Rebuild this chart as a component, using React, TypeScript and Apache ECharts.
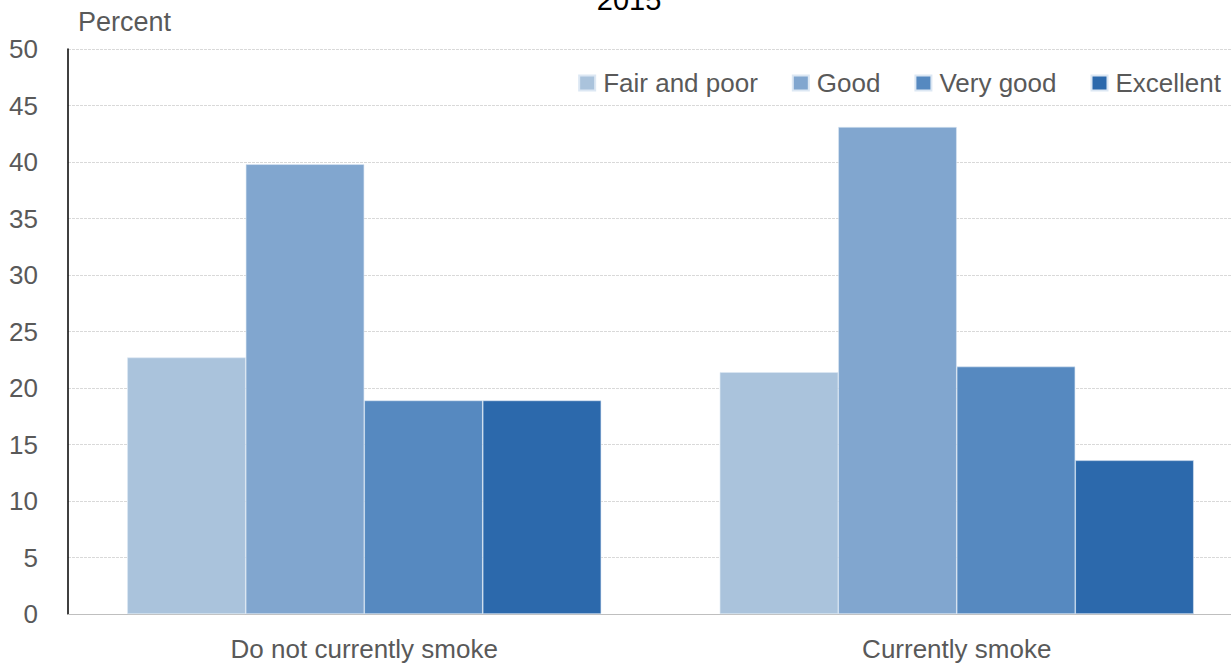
import React, { useEffect, useRef } from "react";
import * as echarts from "echarts";

const categories = ["Do not currently smoke", "Currently smoke"];
const seriesNames = ["Fair and poor", "Good", "Very good", "Excellent"];
const fairAndPoor = [22.7, 21.4];
const good = [39.8, 43.1];
const veryGood = [18.9, 21.9];
const excellent = [18.9, 13.6];
const colors = ["#AAC3DC", "#81A6CF", "#5689C0", "#2C69AC"];
const titleText = "2015";
const yName = "Percent";

const FONT = "'Liberation Sans', Arial, sans-serif";
const GREY = "#595959";

export default function App() {
  const ref = useRef<HTMLDivElement>(null);
  useEffect(() => {
    if (!ref.current) return;
    const chart = echarts.init(ref.current, undefined, { renderer: "svg" });
    const values = [fairAndPoor, good, veryGood, excellent];
    chart.setOption({
      animation: false,
      backgroundColor: "#ffffff",
      graphic: [
        {
          type: "text",
          x: 629,
          y: 14,
          style: {
            text: titleText,
            fontFamily: FONT,
            fontSize: 29,
            fill: "#000",
            align: "center",
            verticalAlign: "bottom",
          },
        },
        {
          type: "text",
          x: 78,
          y: 22,
          style: { text: yName, fontFamily: FONT, fontSize: 27, fill: GREY, verticalAlign: "middle" },
        },
      ],
      legend: {
        data: seriesNames,
        right: 27,
        top: 65,
        itemWidth: 16,
        itemHeight: 15,
        itemGap: 34,
        icon: "rect",
        textStyle: { fontFamily: FONT, fontSize: 26, color: GREY, padding: [0, 0, 0, 3] },
      },
      grid: { left: 68, right: 0, top: 49, bottom: 50, containLabel: false },
      xAxis: {
        type: "category",
        data: categories,
        axisLine: { lineStyle: { color: "#bfbfbf", width: 1 } },
        axisTick: { show: false },
        axisLabel: { fontFamily: FONT, fontSize: 26, color: GREY, margin: 22 },
      },
      yAxis: {
        type: "value",
        min: 0,
        max: 50,
        interval: 5,
        axisLine: { show: true, lineStyle: { color: "#000", width: 1.5 } },
        axisTick: { show: false },
        axisLabel: { fontFamily: FONT, fontSize: 26, color: GREY, margin: 30 },
        splitLine: { lineStyle: { color: "#d9d9d9", type: [3, 1], width: 1 } },
      },
      series: seriesNames.map((name, i) => ({
        name,
        type: "bar",
        data: values[i],
        barGap: "0%",
        barCategoryGap: "20%",
        itemStyle: { color: colors[i], borderColor: "#dce7f3", borderWidth: 0.6 },
      })),
    });
    return () => chart.dispose();
  }, []);
  return (
    <div style={{ position: "fixed", left: 0, top: 0, width: 1231, height: 664, overflow: "hidden" }}>
      <div ref={ref} style={{ width: 1253, height: 664 }} />
    </div>
  );
}
